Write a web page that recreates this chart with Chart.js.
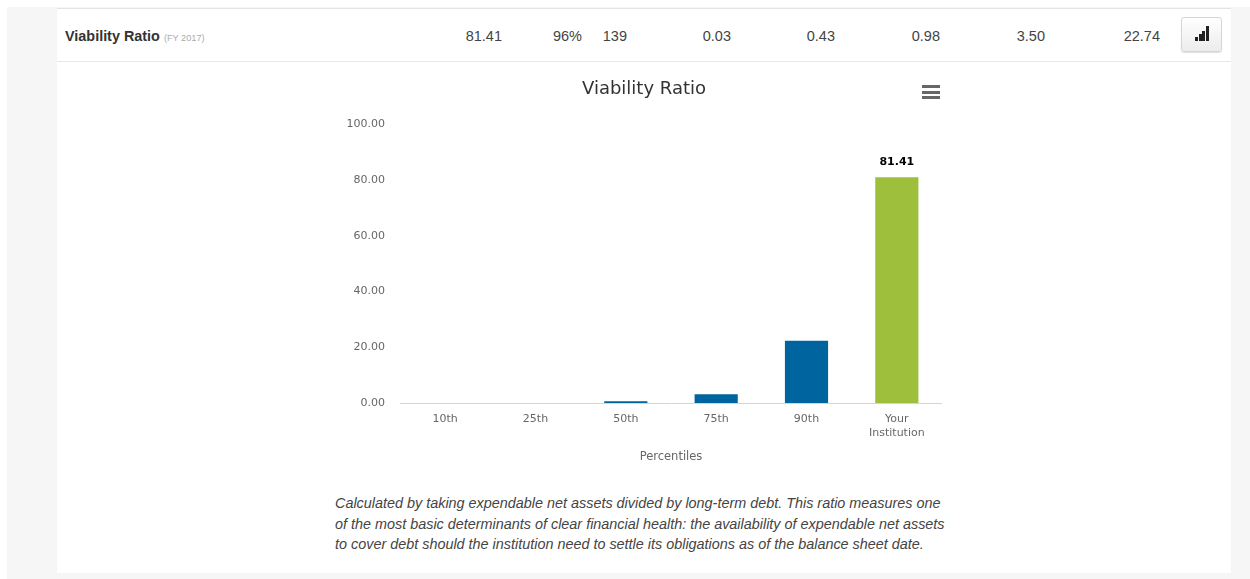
<!DOCTYPE html>
<html>
<head>
<meta charset="utf-8">
<title>Viability Ratio</title>
<script src="https://cdn.jsdelivr.net/npm/chart.js@4"></script>
<style>
    html, body { margin: 0; padding: 0; background: #fff; overflow: hidden; }
    #page { position: absolute; left: 7px; top: 7px; width: 1243px; height: 572px; background: #f6f6f6; }
    #panel { position: absolute; left: 57px; top: 8px; width: 1174px; height: 565px; background: #fff; border-top: 1px solid #e4e4e4; box-sizing: border-box; }
    #rowLine { position: absolute; left: 57px; top: 61px; width: 1174px; height: 1px; background: #e8e8e8; }
    .cell { position: absolute; top: 27px; font: 14.5px/18px "Liberation Sans", Arial, sans-serif; color: #444; white-space: nowrap; }
    #rowName { position: absolute; left: 65px; top: 27px; font: bold 14.4px/18px "Liberation Sans", Arial, sans-serif; color: #333; white-space: nowrap; }
    #rowName small { font-weight: normal; font-size: 9.2px; color: #aaa; }
    #chartBtn { position: absolute; left: 1181px; top: 17px; width: 41px; height: 35px; box-sizing: border-box; border: 1px solid #d5d5d5; border-radius: 3px; background: linear-gradient(#fff, #ececec); box-shadow: 0 1px 1px rgba(0,0,0,.12); }
    #chartBtn i { position: absolute; bottom: 10px; width: 3px; background: #222; }
    #menu { position: absolute; left: 922px; top: 85px; width: 18px; }
    #menu i { display: block; height: 3px; background: #666; margin-bottom: 2.5px; }
    #chartWrap { position: absolute; left: 346px; top: 62px; width: 596px; height: 406px; }
    #note { position: absolute; left: 335px; top: 493px; width: 625px; font: italic 14.4px/20.5px "Liberation Sans", Arial, sans-serif; color: #444; white-space: nowrap; }
</style>
</head>
<body>
<div id="page"></div>
<div id="panel"></div>
<div id="rowLine"></div>
<div id="rowName">Viability Ratio <small>(FY 2017)</small></div>
<div id="cells"></div>
<div id="chartBtn"><i style="left:13px;height:4px"></i><i style="left:17px;height:7px"></i><i style="left:20px;height:10px"></i><i style="left:24px;height:15px"></i></div>
<div id="chartWrap"><canvas id="viabilityChart" width="596" height="406"></canvas></div>
<div id="menu"><i></i><i></i><i></i></div>
<div id="note">Calculated by taking expendable net assets divided by long-term debt. This ratio measures one<br>of the most basic determinants of clear financial health: the availability of expendable net assets<br>to cover debt should the institution need to settle its obligations as of the balance sheet date.</div>

<script>
const categories = ['10th', '25th', '50th', '75th', '90th', ['Your', 'Institution']];
const values = [0.03, 0.43, 0.98, 3.50, 22.74, 81.41];
const yTicks = [0, 20, 40, 60, 80, 100];

// table row above the chart: text and right edge of each cell
const rowCells = ['81.41', '96%', '139', '0.03', '0.43', '0.98', '3.50', '22.74'];
const rowRights = [502, 582, 627, 731, 835, 940, 1045, 1160];

const cellsEl = document.getElementById('cells');
rowCells.forEach((txt, i) => {
    const d = document.createElement('div');
    d.className = 'cell';
    d.textContent = txt;
    d.style.right = (1250 - rowRights[i]) + 'px';
    cellsEl.appendChild(d);
});

// the last bar is the institution, the rest are percentiles
function barColor(ctx) {
    if (ctx.dataIndex === values.length - 1) return '#9dbf3c';
    // bars under ~1px don't show in the original
    return values[ctx.dataIndex] < 0.5 ? 'rgba(0,0,0,0)' : '#00659e';
}

// label above the last bar only
const lastBarLabel = {
    id: 'lastBarLabel',
    afterDatasetsDraw(chart) {
        const ctx = chart.ctx;
        const bar = chart.getDatasetMeta(0).data[values.length - 1];
        ctx.save();
        ctx.font = 'bold 11px "DejaVu Sans"';
        ctx.fillStyle = '#000';
        ctx.textAlign = 'center';
        ctx.fillText(values[values.length - 1].toFixed(2), bar.x, bar.y - 11);
        ctx.restore();
    }
};

new Chart(document.getElementById('viabilityChart'), {
    type: 'bar',
    data: {
        labels: categories,
        datasets: [{
            data: values,
            backgroundColor: barColor,
            borderColor: '#ffffff',
            borderWidth: 1,
            barPercentage: 0.5,
            categoryPercentage: 1
        }]
    },
    plugins: [lastBarLabel],
    options: {
        responsive: false,
        animation: false,
        plugins: {
            legend: { display: false },
            tooltip: { enabled: false },
            title: {
                display: true,
                text: 'Viability Ratio',
                color: '#333',
                font: { family: '"DejaVu Sans"', size: 18, weight: 'normal' },
                padding: { top: 17, bottom: 24 }
            }
        },
        scales: {
            y: {
                min: 0,
                max: 100,
                afterFit(scale) { scale.width = 54; },
                afterBuildTicks(scale) { scale.ticks = yTicks.map(v => ({ value: v })); },
                grid: { display: false },
                border: { display: false },
                ticks: {
                    color: '#666',
                    padding: 7,
                    font: { family: '"DejaVu Sans"', size: 11 },
                    callback: v => v.toFixed(2)
                }
            },
            x: {
                afterFit(scale) { scale.height = 65; },
                grid: { display: false, drawTicks: false },
                border: { display: true, color: '#ccd6eb', width: 1, z: 1 },
                ticks: {
                    color: '#666',
                    padding: 10,
                    maxRotation: 0,
                    autoSkip: false,
                    font: { family: '"DejaVu Sans"', size: 11 }
                },
                title: {
                    display: true,
                    text: 'Percentiles',
                    color: '#666',
                    font: { family: '"DejaVu Sans"', size: 11.5 },
                    padding: { top: 8 }
                }
            }
        }
    }
});
</script>
</body>
</html>
